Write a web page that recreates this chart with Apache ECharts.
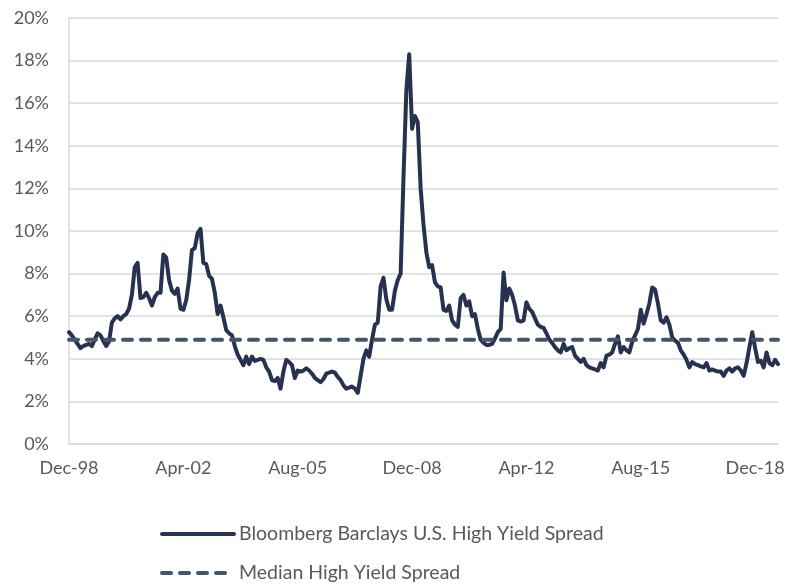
<!DOCTYPE html>
<html>
<head>
<meta charset="utf-8">
<script src="https://cdn.jsdelivr.net/npm/echarts@6/dist/echarts.min.js"></script>
<style>
  html, body { margin: 0; padding: 0; background: #fff; }
  #chart { width: 796px; height: 584px; }
</style>
</head>
<body>
<div id="chart"></div>
<script>
// monthly spread, Dec-98 .. Aug-19 (percent)
var months = ['Jan', 'Feb', 'Mar', 'Apr', 'May', 'Jun', 'Jul', 'Aug', 'Sep', 'Oct', 'Nov', 'Dec'];
var categories = ['Dec-98'];
for (var y = 99; y <= 119; y++) {
  for (var m = 0; m < 12; m++) {
    if (y === 119 && m > 7) break;
    categories.push(months[m] + '-' + String(y % 100).padStart(2, '0'));
  }
}

var hySpread = [
  5.25,
  5.1, 4.9, 4.7, 4.5, 4.6, 4.65, 4.7, 4.6, 4.9, 5.2, 5.1, 4.85,
  4.6, 4.8, 5.7, 5.9, 6.0, 5.85, 6.0, 6.1, 6.35, 7.0, 8.3, 8.5,
  6.85, 6.9, 7.1, 6.85, 6.5, 6.9, 7.1, 7.1, 8.9, 8.75, 7.7, 7.2,
  7.05, 7.3, 6.35, 6.3, 6.75, 7.7, 9.1, 9.2, 9.9, 10.1, 8.5, 8.45,
  7.9, 7.75, 7.1, 6.1, 6.5, 5.95, 5.35, 5.2, 5.1, 4.6, 4.2, 3.95,
  3.7, 4.1, 3.75, 4.1, 3.9, 3.95, 4.0, 3.95, 3.6, 3.4, 3.0, 2.95,
  3.1, 2.6, 3.4, 3.95, 3.85, 3.7, 3.1, 3.45, 3.4, 3.45, 3.55, 3.45,
  3.3, 3.1, 3.0, 2.9, 3.05, 3.3, 3.35, 3.4, 3.35, 3.15, 3.0, 2.75,
  2.6, 2.65, 2.7, 2.6, 2.4, 3.2, 4.0, 4.4, 4.1, 4.9, 5.6, 5.7,
  7.4, 7.8, 6.8, 6.3, 6.3, 7.2, 7.7, 8.0, 12.5, 16.6, 18.3, 14.8,
  15.4, 15.1, 12.0, 10.3, 9.0, 8.3, 8.4, 7.6, 7.4, 7.35, 6.3, 6.25,
  6.5, 5.8, 5.6, 5.5, 6.85, 7.0, 6.5, 6.7, 6.0, 6.1, 5.4, 4.9,
  4.75, 4.65, 4.65, 4.7, 4.95, 5.25, 5.4, 8.05, 6.75, 7.3, 7.0, 6.5,
  5.8, 5.75, 5.8, 6.65, 6.35, 6.2, 5.9, 5.6, 5.5, 5.45, 5.2, 4.9,
  4.75, 4.55, 4.4, 4.3, 4.7, 4.4, 4.5, 4.55, 4.15, 4.0, 3.85, 4.0,
  3.7, 3.6, 3.55, 3.5, 3.45, 3.8, 3.6, 4.15, 4.2, 4.3, 4.7, 5.05,
  4.3, 4.55, 4.4, 4.3, 4.8, 5.1, 5.4, 6.3, 5.65, 6.1, 6.6, 7.35,
  7.25, 6.6, 5.8, 5.7, 5.95, 5.6, 5.0, 4.85, 4.75, 4.4, 4.2, 3.95,
  3.6, 3.85, 3.75, 3.7, 3.65, 3.6, 3.8, 3.45, 3.5, 3.45, 3.4, 3.4,
  3.2, 3.45, 3.55, 3.4, 3.55, 3.6, 3.45, 3.2, 3.8, 4.55, 5.25, 4.5,
  3.85, 3.9, 3.6, 4.3, 3.8, 3.7, 3.95, 3.75
];

var medianSpread = 4.9;
var yTicks = [0, 2, 4, 6, 8, 10, 12, 14, 16, 18, 20];

var font = 'Lato, "Open Sans", sans-serif';
var chart = echarts.init(document.getElementById('chart'));
chart.setOption({
  animation: false,
  backgroundColor: '#fff',
  textStyle: { fontFamily: font },
  grid: { left: 69, right: 18, top: 18, bottom: 140 },
  xAxis: {
    type: 'category',
    data: categories,
    boundaryGap: false,
    axisLine: { lineStyle: { color: '#D9D9D9', width: 1.5 } },
    axisTick: { show: false },
    axisLabel: {
      interval: 39,
      margin: 15,
      color: '#595959',
      fontSize: 18,
      fontFamily: font
    },
    splitLine: { show: false }
  },
  yAxis: {
    type: 'value',
    min: yTicks[0],
    max: yTicks[yTicks.length - 1],
    interval: 2,
    axisLine: { show: true, lineStyle: { color: '#D9D9D9', width: 1.5 } },
    axisTick: { show: false },
    axisLabel: {
      formatter: '{value}%',
      margin: 20,
      color: '#595959',
      fontSize: 18,
      fontFamily: font
    },
    splitLine: { lineStyle: { color: '#D9D9D9', width: 1.5 } }
  },
  legend: {
    orient: 'vertical',
    left: 160,
    top: 524,
    height: 60,
    padding: 0,
    itemWidth: 72,
    itemHeight: 14,
    itemGap: 19,
    itemStyle: { opacity: 0 },
    lineStyle: { width: 4, cap: 'round' },
    textStyle: { color: '#595959', fontSize: 19.5, lineHeight: 20, fontFamily: font },
    data: ['Bloomberg Barclays U.S. High Yield Spread', 'Median High Yield Spread']
  },
  series: [
    {
      name: 'Bloomberg Barclays U.S. High Yield Spread',
      type: 'line',
      data: hySpread,
      symbol: 'none',
      lineStyle: { color: '#26324F', width: 4, cap: 'round', join: 'round' },
      itemStyle: { color: '#26324F' }
    },
    {
      name: 'Median High Yield Spread',
      type: 'line',
      data: [[categories[0], medianSpread], [categories[categories.length - 1], medianSpread]],
      symbol: 'none',
      lineStyle: { color: '#44546A', width: 4, type: [9, 9], cap: 'round' },
      itemStyle: { color: '#44546A' }
    }
  ]
});
</script>
</body>
</html>
